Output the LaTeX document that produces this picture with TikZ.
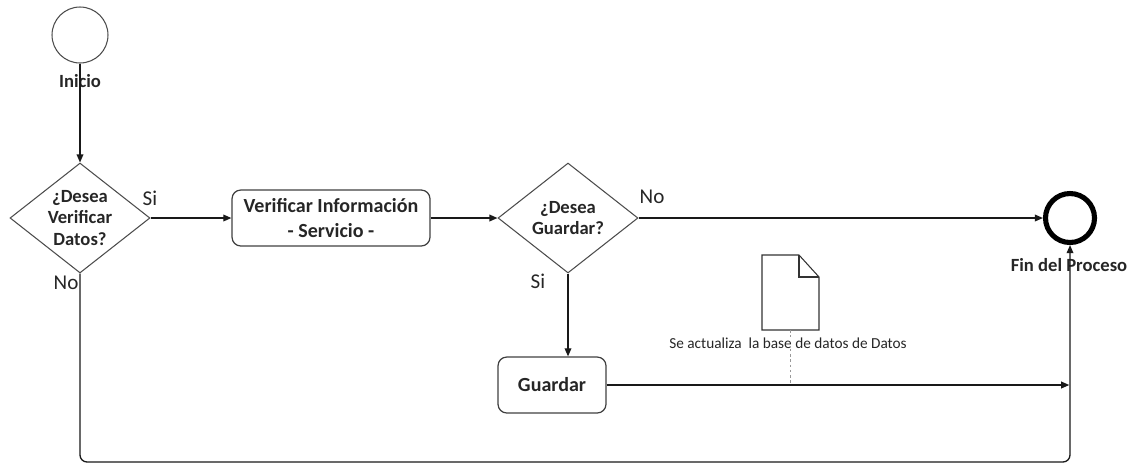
\documentclass[tikz,border=0pt]{standalone}
\usepackage{fontspec}
\setmainfont{Carlito}
\usetikzlibrary{arrows.meta,shapes.geometric}
\begin{document}
\begin{tikzpicture}[x=0.02cm,y=-0.02cm,
  lbl/.style={font=\fontsize{10.6}{12.4}\selectfont\bfseries, text=black!85, align=center, inner sep=0},
  boxtxt/.style={font=\fontsize{11.4}{13}\selectfont\bfseries, text=black!85, align=center, inner sep=0},
  guard/.style={font=\fontsize{12}{14}\selectfont, text=black!85, inner sep=0},
  dec/.style={draw=black!70, line width=0.6pt, shape=diamond, inner sep=0, minimum width=2.8cm, minimum height=2.2cm},
  task/.style={draw=black!75, line width=0.7pt, rounded corners=5pt, inner sep=0},
  arr/.style={draw=black!90, line width=0.75pt, -{Triangle[length=4.6pt,width=3.8pt]}},
  note/.style={draw=black!40, line width=0.4pt, dash pattern=on 1.5pt off 1.5pt}]
  \useasboundingbox (0,0) rectangle (1141,468);

  % events
  \node[draw=black!70, line width=0.6pt, circle, minimum size=1.12cm, inner sep=0] (start) at (80,35) {};
  \node[lbl] (startlbl) at (80,81) {Inicio};
  \node[draw=black, line width=2.9pt, circle, minimum size=0.98cm, inner sep=0] (fin) at (1070,218) {};
  \node[lbl] (finlbl) at (1069,265) {Fin del Proceso};

  % gateways
  \node[dec] (d1) at (80,218) {};
  \node[lbl] (d1t) at (d1) {¿Desea\\Verificar\\Datos?};
  \node[dec] (d2) at (568,218) {};
  \node[lbl] (d2t) at (d2) {¿Desea\\Guardar?};

  % tasks
  \node[task, minimum width=3.96cm, minimum height=1.12cm] (b1) at (331,218) {};
  \node[boxtxt] (b1t) at (b1) {Verificar Información\\[1pt]- Servicio -};
  \node[task, minimum width=2.16cm, minimum height=1.12cm] (g) at (552,385) {};
  \node[boxtxt] (gt) at (g) {Guardar};

  % data object with its annotation
  \draw[draw=black!80, line width=0.6pt] (762,255) -- (799,255) -- (819,277) -- (819,330) -- (762,330) -- cycle;
  \draw[draw=black!80, line width=0.6pt] (799,255) -- (799,277) -- (819,277);
  \coordinate (docb) at (790,330);
  \node[font=\fontsize{8.7}{10}\selectfont, text=black!85, inner sep=0] (doctxt) at (788,343) {Se actualiza\ \ la base de datos de Datos};
  \coordinate (guardline) at (790,385);
  \draw[note] (docb) -- (doctxt.north -| docb);
  \draw[note] (doctxt.south -| docb) -- (guardline);

  % sequence flows
  \draw[arr] (start) -- (d1.north);
  \draw[arr] (d1.east) -- (b1.west);
  \draw[arr] (b1.east) -- (d2.west);
  \draw[arr] (d2.east) -- (fin.west);
  \draw[arr] (d2.south) -- (d2.south |- g.north);
  \draw[arr] (g.east) -- ([xshift=-0.4pt]g.east -| fin.south);
  \coordinate (bot) at (80,462);
  \draw[arr, rounded corners=4pt] (d1.south) -- (bot) -| (fin.south);

  % branch labels
  \node[guard] (si1) at (150,198) {Si};
  \node[guard] (no1) at (66,283) {No};
  \node[guard] (no2) at (652,197) {No};
  \node[guard] (si2) at (538,281) {Si};
\end{tikzpicture}
\end{document}
